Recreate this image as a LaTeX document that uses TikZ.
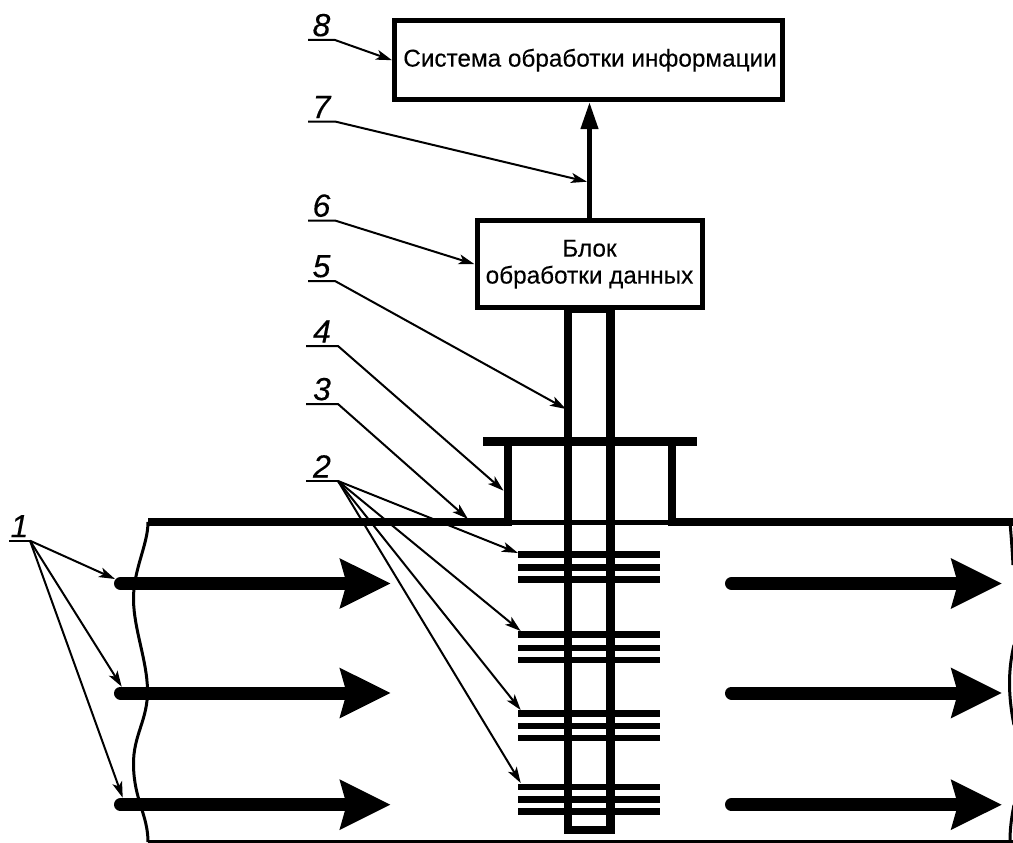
\documentclass[tikz,border=0pt]{standalone}
\usepackage{fontspec}
\setmainfont{Liberation Sans}[FakeBold=0.25]
\usetikzlibrary{arrows.meta}

\tikzset{
   block/.style={draw, line width=5pt, inner sep=0pt, align=center, font=\fontsize{24.3}{27}\selectfont},
   tag/.style={anchor=south, minimum width=#1, inner xsep=0pt, inner ysep=3.5pt, outer sep=0pt, font=\fontsize{32}{32}\selectfont\itshape},
   leader/.style={line width=2pt, -{Stealth[length=16pt,width=10pt,inset=4pt]}},
   flow/.style={line width=13pt, line cap=round, -{Stealth[length=50pt,width=48pt,inset=6pt]}},
   wall/.style={line width=8.5pt},
   fin/.style={line width=6.5pt},
   rim/.style={line width=3pt}
}

\begin{document}
\begin{tikzpicture}[x=1pt,y=-1pt]
   \useasboundingbox (0,0) rectangle (1013,843);

   \node[block, minimum width=388pt, minimum height=79pt] (b_sys) at (588.5,60.2) {\hspace*{3pt}Система обработки информации};
   \node[block, minimum width=225pt, minimum height=87.5pt] (b_blk) at (589.5,264.2) {Блок\\обработки данных};
   \draw[line width=4.5pt, -{Triangle[length=27pt,width=17pt]}] (b_blk.north) -- (b_blk.north |- b_sys.south);

   % housing
   \draw[line width=8pt] (148,522) -- (512,522);
   \draw[line width=8pt] (668,522) -- (1013,522);
   \draw[line width=5pt] (508,522.5) -- (672,522.5);
   \draw[wall] (508,526) -- (508,441.5);
   \draw[wall] (672,526) -- (672,441.5);
   \draw[line width=9pt] (483,441.5) -- (697,441.5);
   \draw[rim] (148,841) -- (1013,841);
   \draw[rim] (148,522) .. controls (148,545) and (133,570) .. (133.5,600)
       .. controls (134,630) and (147,660) .. (147.5,690)
       .. controls (148,720) and (133,735) .. (133.5,765)
       .. controls (134,800) and (148,815) .. (148,842);
   \draw[rim] (1010,522) .. controls (1011,535) and (1012,545) .. (1013,565);
   \draw[rim] (1014,645) .. controls (1008,670) and (1008,695) .. (1014,725);
   \draw[rim] (1014,805) .. controls (1011,820) and (1010,830) .. (1010,842);

   % sensor tube and fins
   \draw[wall] (568,309) rectangle (610.5,830);
   \foreach \y in {554.7,567.7,579.7,634.7,648,660,713.7,726,738,787,799.3,811.7}
      \draw[fin] (518,\y) -- (660,\y);

   % flow arrows
   \foreach \y/\n in {583.5/1,693/2,804.7/3} {
      \coordinate (f_\n) at (120.5,\y);
      \coordinate (g_\n) at (390.7,\y);
      \coordinate (r_\n) at (731.5,\y);
      \coordinate (s_\n) at (1002,\y);
      \draw[flow] (f_\n) -- (g_\n);
      \draw[flow] (r_\n) -- (s_\n);
   }

   % leader targets
   \coordinate (t_1a) at (115,579);
   \coordinate (t_1b) at (121.7,686.7);
   \coordinate (t_1c) at (122.7,797.7);
   \coordinate (t_2a) at (518,553);
   \coordinate (t_2b) at (520.7,631);
   \coordinate (t_2c) at (520.7,710);
   \coordinate (t_2d) at (520.7,783);
   \coordinate (t_3) at (468,519);
   \coordinate (t_4) at (503.5,490.7);
   \coordinate (t_5) at (566,409);
   \coordinate (t_7) at (587,181.7);

   \node[tag=21pt] (l_1) at (19.5,540.7) {1};
   \node[tag=32pt] (l_2) at (322,481) {2};
   \node[tag=32pt] (l_3) at (322,404) {3};
   \node[tag=32pt] (l_4) at (322,346) {4};
   \node[tag=27pt] (l_5) at (321.5,281) {5};
   \node[tag=27pt] (l_6) at (321.5,220.5) {6};
   \node[tag=27pt] (l_7) at (321.5,121.5) {7};
   \node[tag=27pt] (l_8) at (321.5,40) {8};

   \draw[line width=2pt] (l_1.south west) -- (l_1.south east);
   \draw[leader] (l_1.south east) -- (t_1a);
   \draw[leader] (l_1.south east) -- (t_1b);
   \draw[leader] (l_1.south east) -- (t_1c);
   \draw[line width=2pt] (l_2.south west) -- (l_2.south east);
   \draw[leader] (l_2.south east) -- (t_2a);
   \draw[leader] (l_2.south east) -- (t_2b);
   \draw[leader] (l_2.south east) -- (t_2c);
   \draw[leader] (l_2.south east) -- (t_2d);
   \draw[leader] (l_3.south west) -- (l_3.south east) -- (t_3);
   \draw[leader] (l_4.south west) -- (l_4.south east) -- (t_4);
   \draw[leader] (l_5.south west) -- (l_5.south east) -- (t_5);
   \draw[leader] (l_6.south west) -- (l_6.south east) -- (b_blk.west);
   \draw[leader] (l_7.south west) -- (l_7.south east) -- (t_7);
   \draw[leader] (l_8.south west) -- (l_8.south east) -- (b_sys.west);
\end{tikzpicture}
\end{document}
